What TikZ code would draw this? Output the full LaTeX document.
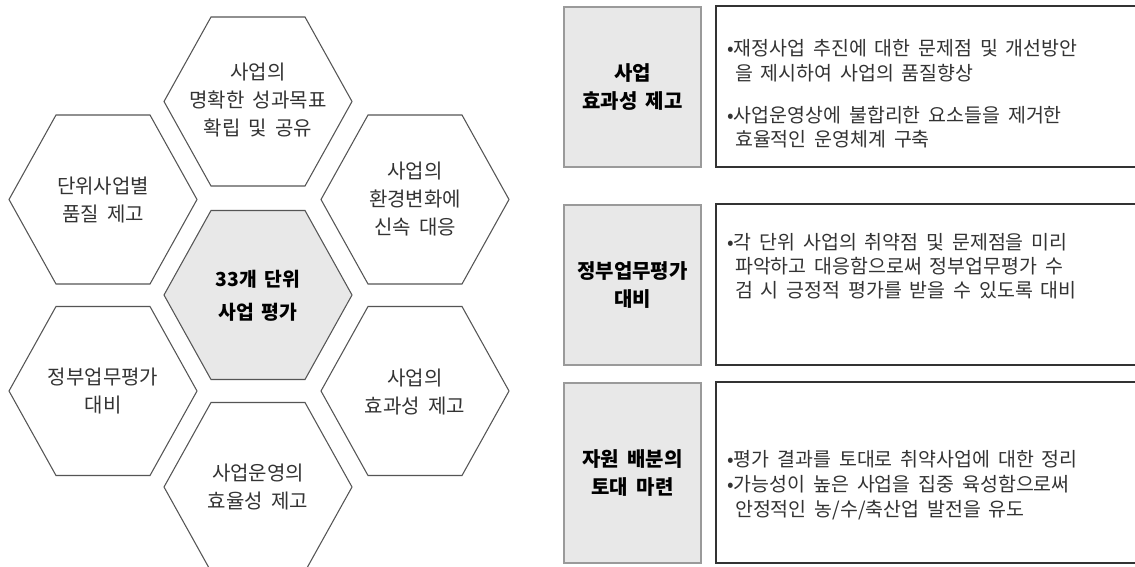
\documentclass[tikz,border=0pt]{standalone}
\usepackage{fontspec}
\setmainfont{Noto Sans CJK KR}
\newfontfamily\kr[WordSpace=1.8]{Noto Sans CJK KR}
\definecolor{hexline}{HTML}{555555}
\definecolor{hexfill}{HTML}{E8E8E8}
\definecolor{txtgray}{HTML}{333333}
\definecolor{boxline}{HTML}{9A9A9A}
\definecolor{wline}{HTML}{333333}
\tikzset{
  hexshape/.style={draw=hexline, line width=0.8pt, line join=miter},
  hextext/.style={align=center, text=txtgray, inner sep=0pt, font={\kr\fontsize{15pt}{21pt}\selectfont}},
  hexbold/.style={align=center, text=black, inner sep=0pt, font={\kr\bfseries\fontsize{14.5pt}{24.75pt}\selectfont}},
  graybox/.style={draw=boxline, fill=hexfill, line width=0.8pt, minimum width=102.75pt, inner sep=0pt,
     align=center, font={\kr\bfseries\fontsize{15pt}{21pt}\selectfont}},
  whitebox/.style={draw=wline, fill=white, line width=0.8pt, minimum width=318pt, inner sep=0pt},
  bullettext/.style={align=left, text=txtgray, inner sep=0pt, anchor=west, font={\kr\fontsize{14.6pt}{18.2pt}\selectfont}}
}
\newcommand{\hexcell}[5]{%
  \draw[hexshape, fill=#4] (#2-94,#3) -- (#2-47,#3-84.5) -- (#2+47,#3-84.5) -- (#2+94,#3)
     -- (#2+47,#3+84.5) -- (#2-47,#3+84.5) -- cycle;}
\begin{document}
\begin{tikzpicture}[x=0.75pt, y=-0.75pt]
\useasboundingbox (0,0) rectangle (1135,567);
\clip (0,0) rectangle (1135,567);
\fill[white] (0,0) rectangle (1135,567);
% hexagons
\hexcell{top}{258}{101.5}{white}{}
\hexcell{lu}{103}{199.5}{white}{}
\hexcell{ru}{415}{199.5}{white}{}
\hexcell{ctr}{258}{295}{hexfill}{}
\hexcell{ll}{103}{391}{white}{}
\hexcell{rl}{415}{391}{white}{}
\hexcell{bot}{258}{487}{white}{}
\node[hextext] (htop) at (258,100) {사업의\\명확한 성과목표\\확립 및 공유};
\node[hextext] (hlu) at (103,200) {단위사업별\\품질 제고};
\node[hextext] (hru) at (415,199) {사업의\\환경변화에\\신속 대응};
\node[hexbold] (hctr) at (258,296) {33개 단위\\사업 평가};
\node[hextext] (hll) at (103,391.5) {정부업무평가\\대비};
\node[hextext] (hrl) at (415,392) {사업의\\효과성 제고};
\node[hextext] (hbot) at (258,487.5) {사업운영의\\효율성 제고};
% right boxes
\node[graybox, minimum height=120pt] (g1) at (632.5,87) {사업\\효과성 제고};
\node[graybox, minimum height=120pt] (g2) at (632.5,285) {정부업무평가\\대비};
\node[graybox, minimum height=135pt] (g3) at (632.5,473) {자원 배분의\\토대 마련};
\node[whitebox, minimum height=120.75pt] (w1) at (928,86.5) {};
\node[whitebox, minimum height=120.75pt] (w2) at (928,284.5) {};
\node[whitebox, minimum height=135.75pt] (w3) at (928,472.5) {};
\node[bullettext] (t1) at (727,94) {•재정사업 추진에 대한 문제점 및 개선방안\\
\ 을 제시하여 사업의 품질향상\\[13.5pt]
•사업운영상에 불합리한 요소들을 제거한\\
\ 효율적인 운영체계 구축};
\node[bullettext] (t2) at (727,266) {•각 단위 사업의 취약점 및 문제점을 미리\\
\ 파악하고 대응함으로써 정부업무평가 수\\
\ 검 시 긍정적 평가를 받을 수 있도록 대비};
\node[bullettext] (t3) at (727,485) {•평가 결과를 토대로 취약사업에 대한 정리\\[1pt]
•가능성이 높은 사업을 집중 육성함으로써\\
\ 안정적인 농/수/축산업 발전을 유도};
\end{tikzpicture}
\end{document}
